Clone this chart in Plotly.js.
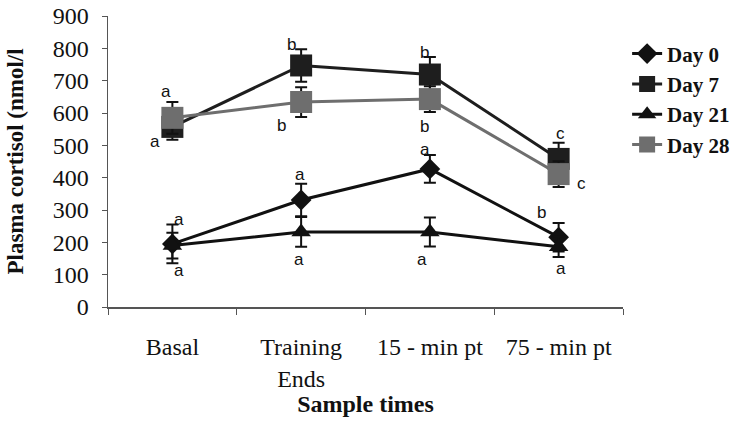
<!DOCTYPE html>
<html>
<head>
<meta charset="utf-8">
<script src="https://cdn.plot.ly/plotly-3.0.1.min.js"></script>
<style>html,body{margin:0;padding:0;background:#fff}#chart{width:747px;height:427px}</style>
</head>
<body>
<div id="chart"></div>
<script>
// ---- data ----
var categories = ["Basal", "Training<br>Ends", "15 - min pt", "75 - min pt"];
var seriesNames = ["Day 0", "Day 7", "Day 21", "Day 28"];
var day0  = [195, 331, 427, 216];
var day7  = [557, 747, 719, 458];
var day21 = [190, 232, 232, 186];
var day28 = [585, 634, 643, 411];
var err0  = [60, 50, 43, 44];
var err7  = [40, 50, 54, 50];
var err21 = [40, 46, 45, 31];
var err28 = [49, 46, 40, 40];
var letters0  = ["a", "a", "a", "b"];
var letters7  = ["a", "b", "b", "c"];
var letters21 = ["a", "a", "a", "a"];
var letters28 = ["a", "b", "b", "c"];
var yTicks = [0, 100, 200, 300, 400, 500, 600, 700, 800, 900];

// ---- styling ----
var serif = "Liberation Serif, Times New Roman, serif";
var sans = "Liberation Sans, Arial, sans-serif";
var styles = [
  {color: "#111111", symbol: "diamond", size: 16},
  {color: "#1e1e1e", symbol: "square", size: 22},
  {color: "#111111", symbol: "triangle-up", size: 17},
  {color: "#6e6e6e", symbol: "square", size: 22}
];
var values = [day0, day7, day21, day28];
var errs = [err0, err7, err21, err28];
var letters = [letters0, letters7, letters21, letters28];
// pixel offsets of significance letters from each point
var shifts = [
  [[7, 24], [-1, 25], [-5, 19], [-17, 25]],
  [[-17, -15], [-10, 21], [-5, 22], [2, 25]],
  [[7, -25], [-2, -28], [-8, -28], [2, -22]],
  [[-6, 26], [-20, -23], [-5, -27], [23, -9]]
];

var traces = [];
// draw order: Day 7 below Day 28 at basal
var order = [1, 3, 0, 2];
order.forEach(function (i) {
  traces.push({
    type: "scatter", mode: "lines+markers",
    name: seriesNames[i],
    x: categories, y: values[i],
    line: {color: styles[i].color, width: 3},
    marker: {symbol: styles[i].symbol, size: styles[i].size, color: styles[i].color},
    error_y: {type: "data", array: errs[i], visible: true, color: "#111", thickness: 2, width: 6},
    legendrank: i + 1
  });
});

var annotations = [];
for (var s = 0; s < 4; s++) {
  for (var k = 0; k < categories.length; k++) {
    annotations.push({
      x: categories[k], y: values[s][k], xref: "x", yref: "y",
      text: letters[s][k], showarrow: false,
      xshift: shifts[s][k][0], yshift: shifts[s][k][1],
      font: {family: sans, size: 17, color: "#111"}
    });
  }
}

var layout = {
  width: 747, height: 427,
  margin: {l: 108, r: 117, t: 16, b: 120},
  paper_bgcolor: "#fff", plot_bgcolor: "#fff",
  showlegend: true,
  legend: {
    x: 1.008, y: 0.94, xanchor: "left", yanchor: "top",
    font: {family: serif, size: 21, color: "#111", weight: "bold"},
    bgcolor: "rgba(0,0,0,0)", tracegroupgap: 0, itemsizing: "trace"
  },
  xaxis: {
    type: "category", categoryarray: categories, categoryorder: "array",
    range: [-0.5, 3.5], tickson: "boundaries",
    showline: true, linecolor: "#555", linewidth: 1.5,
    ticks: "outside", ticklen: 6, tickcolor: "#555", tickwidth: 1,
    showgrid: false, zeroline: false,
    tickfont: {family: serif, size: 24, color: "#111"},
    ticklabelstandoff: 18,
    title: {text: "<b>Sample times</b>", font: {family: serif, size: 24, color: "#111"}, standoff: 4}
  },
  yaxis: {
    range: [0, 900], tickvals: yTicks, ticktext: yTicks.map(String),
    showline: true, linecolor: "#555", linewidth: 1.5,
    ticks: "outside", ticklen: 5, tickcolor: "#555", tickwidth: 1,
    showgrid: false, zeroline: false,
    tickfont: {family: serif, size: 24, color: "#111"},
    ticklabelstandoff: 8,
    title: {text: "<b>Plasma cortisol (nmol/l</b>", font: {family: serif, size: 23, color: "#111"}, standoff: 22}
  },
  annotations: annotations
};

Plotly.newPlot("chart", traces, layout, {displayModeBar: false, staticPlot: true});
</script>
</body>
</html>
